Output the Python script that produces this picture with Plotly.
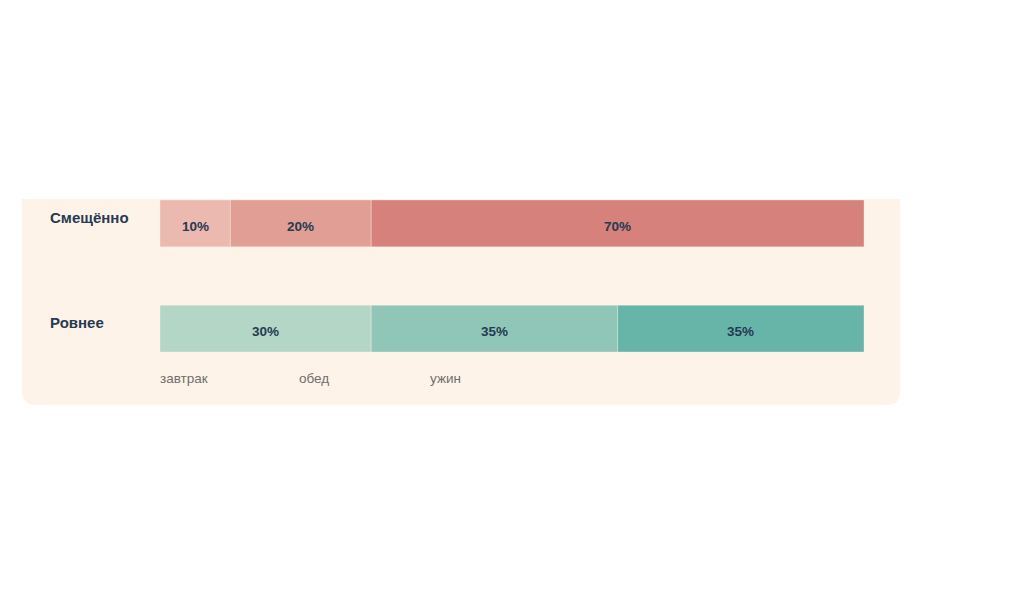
import plotly.graph_objects as go

rows = ["Ровнее", "Смещённо"]
meals = ["завтрак", "обед", "ужин"]
values = {
    "Смещённо": [10, 20, 70],
    "Ровнее": [30, 35, 35],
}
colors = {
    "Смещённо": ["#EBB9AF", "#E19E94", "#D6817B"],
    "Ровнее": ["#B3D6C6", "#8FC6B7", "#67B5A8"],
}

OFF = 8  # page body margin
W, H = 1024, 614
L, R, T, B = 160 - OFF, 864 - OFF, 200 - OFF, 352 - OFF
fig = go.Figure()
for ri, row in enumerate(rows):
    base = 0
    for mi, meal in enumerate(meals):
        v = values[row][mi]
        fig.add_trace(go.Bar(
            y=[ri], x=[v], base=[base], orientation="h", width=0.445,
            marker=dict(color=colors[row][mi], line=dict(color="rgba(255,240,235,0.35)", width=1)),
            showlegend=False, hoverinfo="skip", name=meal,
        ))
        fig.add_annotation(x=base + v / 2, y=ri, xref="x", yref="y", yshift=-3,
                           text=f"<b>{v}%</b>", showarrow=False,
                           font=dict(family="Liberation Sans, Arial", size=13.5, color="#263A52"))
        base += v

def px(xp):
    return (xp - OFF - L) / (R - L)

def py(yp):
    return (B - (yp - OFF)) / (B - T)

x0, x1, y0, y1, r = 22, 900, 199, 405, 14
path = (f"M {px(x0)},{py(y0)} L {px(x1)},{py(y0)} L {px(x1)},{py(y1 - r)} "
        f"Q {px(x1)},{py(y1)} {px(x1 - r)},{py(y1)} L {px(x0 + r)},{py(y1)} "
        f"Q {px(x0)},{py(y1)} {px(x0)},{py(y1 - r)} Z")
fig.add_shape(type="path", path=path, xref="paper", yref="paper",
              fillcolor="#FEF3E8", line=dict(width=0), layer="below")

for ri, row in enumerate(rows):
    fig.add_annotation(x=px(48), xref="paper", y=ri, yref="y", yshift=6,
                       text=f"<b>{row}</b>", showarrow=False, xanchor="left",
                       font=dict(family="Liberation Sans, Arial", size=15, color="#263A52"))

legend_x = [158, 297, 428]
for meal, lx in zip(meals, legend_x):
    fig.add_annotation(x=px(lx), xref="paper", y=py(378), yref="paper",
                       text=meal, showarrow=False, xanchor="left", yanchor="middle",
                       font=dict(family="Liberation Sans, Arial", size=13.5, color="#6E6E6E"))

fig.update_layout(
    width=W, height=H, barmode="overlay",
    margin=dict(l=L, r=W - R, t=T, b=H - B),
    paper_bgcolor="white", plot_bgcolor="rgba(0,0,0,0)",
    xaxis=dict(range=[0, 100], visible=False, fixedrange=True),
    yaxis=dict(range=[-0.2225, 1.2225], visible=False, fixedrange=True),
)
fig.write_html("out.html")
